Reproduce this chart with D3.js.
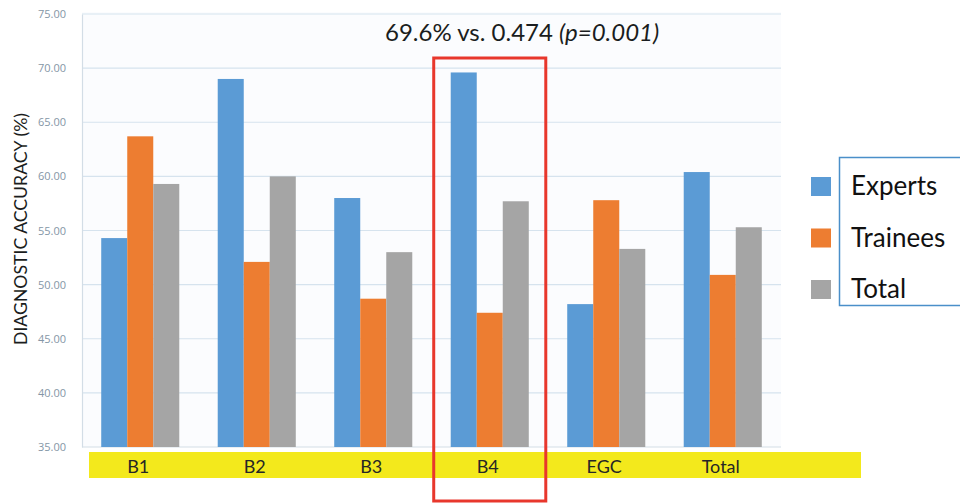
<!DOCTYPE html>
<html>
<head>
<meta charset="utf-8">
<script src="https://cdn.jsdelivr.net/npm/d3@7"></script>
<style>
  html, body { margin: 0; padding: 0; background: #ffffff; }
  svg { display: block; }
</style>
</head>
<body>
<svg id="chart" width="960" height="504"></svg>
<script>
// Diagnostic accuracy by case group
const categories = ["B1", "B2", "B3", "B4", "EGC", "Total"];
const seriesNames = ["Experts", "Trainees", "Total"];
const experts  = [54.3, 69.0, 58.0, 69.6, 48.2, 60.4];
const trainees = [63.7, 52.1, 48.7, 47.4, 57.8, 50.9];
const totals   = [59.3, 60.0, 53.0, 57.7, 53.3, 55.3];
const yTicks = [35, 40, 45, 50, 55, 60, 65, 70, 75];
const headline = "69.6% vs. 0.474";
const headlineStat = "(p=0.001)";
const highlighted = "B4";

const colors = ["#5b9bd5", "#ed7d31", "#a5a5a5"];
const seriesValues = [experts, trainees, totals];
const rows = categories.map((c, i) => ({
  category: c,
  values: seriesNames.map((s, j) => ({ key: s, value: seriesValues[j][i] }))
}));

const svg = d3.select("#chart");
const plot = { left: 82, right: 781, top: 14, bottom: 447 };

// plot area background
svg.append("rect")
  .attr("x", plot.left).attr("y", plot.top - 2)
  .attr("width", plot.right - plot.left).attr("height", plot.bottom - plot.top + 2)
  .attr("fill", "#fbfcfe");

const y = d3.scaleLinear().domain([35, 75]).range([plot.bottom, plot.top]);
const x0 = d3.scaleBand().domain(categories).range([plot.left, plot.right])
  .paddingInner(0.33).paddingOuter(0.165);
const x1 = d3.scaleBand().domain(seriesNames).range([0, x0.bandwidth()]).padding(0);
const color = d3.scaleOrdinal().domain(seriesNames).range(colors);

// gridlines
svg.append("g")
  .selectAll("line").data(yTicks.filter(t => t > 35)).join("line")
  .attr("x1", plot.left).attr("x2", plot.right)
  .attr("y1", d => y(d)).attr("y2", d => y(d))
  .attr("stroke", "#d6e3ee").attr("stroke-width", 1.2);

// y axis tick labels
const yAxis = d3.axisLeft(y).tickValues(yTicks).tickFormat(d3.format(".2f")).tickSize(0).tickPadding(16);
const yg = svg.append("g").attr("transform", `translate(${plot.left},0)`).call(yAxis);
yg.select(".domain").attr("stroke", "#d3dde6").attr("stroke-width", 1.2);
yg.selectAll("text")
  .attr("fill", "#8496a6")
  .style("font-family", "'Open Sans', sans-serif")
  .style("font-size", "11px");

// bottom axis line
svg.append("line")
  .attr("x1", plot.left).attr("x2", plot.right)
  .attr("y1", plot.bottom).attr("y2", plot.bottom)
  .attr("stroke", "#d3dde6").attr("stroke-width", 1.2);

// bars
svg.append("g")
  .selectAll("g").data(rows).join("g")
  .attr("transform", d => `translate(${x0(d.category)},0)`)
  .selectAll("rect").data(d => d.values).join("rect")
  .attr("x", d => x1(d.key))
  .attr("width", x1.bandwidth())
  .attr("y", d => y(d.value))
  .attr("height", d => y(35) - y(d.value))
  .attr("fill", d => color(d.key));

// category strip
const stripTop = 452, stripH = 26;
svg.append("rect")
  .attr("x", 89).attr("y", stripTop).attr("width", 772).attr("height", stripH)
  .attr("fill", "#f3e91c");
svg.append("g")
  .selectAll("text").data(categories).join("text")
  .attr("x", d => x0(d) + x0.bandwidth() / 2 - 2)
  .attr("y", stripTop + 21)
  .attr("text-anchor", "middle")
  .attr("fill", "#262626")
  .style("font-family", "Lato, sans-serif")
  .style("font-size", "18px")
  .text(d => d);

// highlight frame around the B4 group
const hx = x0(highlighted);
svg.append("rect")
  .attr("x", hx - 17).attr("y", 58)
  .attr("width", x0.bandwidth() + 34).attr("height", 443)
  .attr("fill", "none").attr("stroke", "#e8372c").attr("stroke-width", 3);

// headline annotation
const title = svg.append("text")
  .attr("x", 385).attr("y", 41)
  .attr("fill", "#1a1d20")
  .style("font-family", "Lato, sans-serif")
  .style("font-size", "24px");
title.append("tspan").text(headline + " ");
title.append("tspan").style("font-style", "italic").text(headlineStat);

// y axis title
svg.append("text")
  .attr("transform", "translate(27,229) rotate(-90)")
  .attr("text-anchor", "middle")
  .attr("fill", "#1a1d20")
  .attr("textLength", 232)
  .attr("lengthAdjust", "spacingAndGlyphs")
  .style("font-family", "Lato, sans-serif")
  .style("font-size", "18px")
  .text("DIAGNOSTIC ACCURACY (%)");

// legend
svg.append("rect")
  .attr("x", 839.5).attr("y", 157.5).attr("width", 130).attr("height", 148)
  .attr("fill", "#ffffff").attr("stroke", "#4a8fc9").attr("stroke-width", 1.5);
const legend = svg.append("g").selectAll("g").data(seriesNames).join("g")
  .attr("transform", (d, i) => `translate(811,${177 + i * 51.5})`);
legend.append("rect").attr("width", 20).attr("height", 19).attr("fill", d => color(d));
legend.append("text")
  .attr("x", 40).attr("y", 18)
  .attr("fill", "#111")
  .style("font-family", "Lato, sans-serif")
  .style("font-size", "26px")
  .text(d => d);
</script>
</body>
</html>
